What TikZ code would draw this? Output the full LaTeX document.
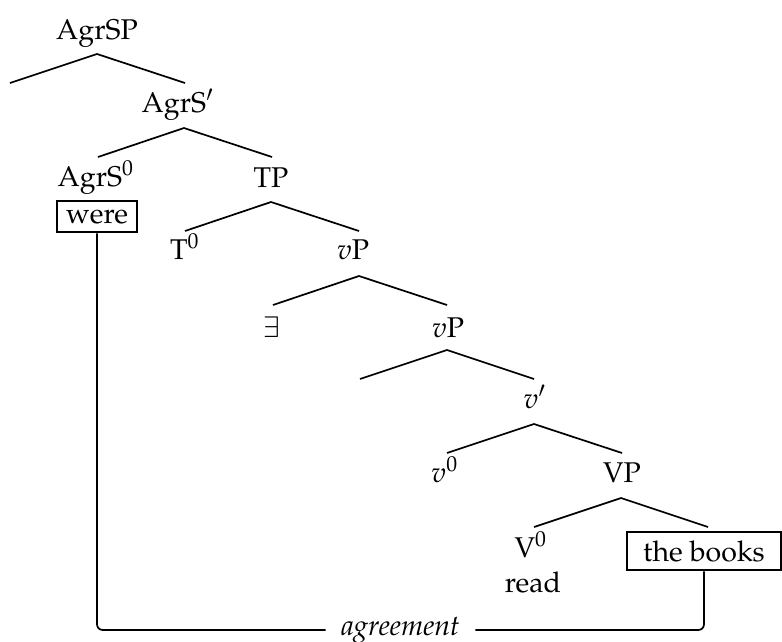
\documentclass[tikz,border=0pt]{standalone}
\usepackage[T1]{fontenc}
\usepackage{mathpazo}
\begin{document}
\begin{tikzpicture}[x=0.3504pt,y=-0.3504pt,
  lbl/.style={anchor=base,inner sep=0pt},
  branch/.style={line width=0.6pt},
  boxed/.style={draw,line width=0.8pt,inner xsep=3pt,inner ysep=3pt},
  link/.style={line width=0.6pt,rounded corners=2pt}]
\useasboundingbox (0,0) rectangle (782,641);
% labels
\node[lbl] (agrsp) at (97,39) {AgrSP};
\node[lbl] (agrsbar) at (178,112) {AgrS$'$};
\node[lbl] (agrs0) at (96,186) {AgrS$^0$};
\node[boxed,minimum width=28pt] (were) at (97,216.5) {were};
\node[lbl] (tp) at (271,187) {TP};
\node[lbl] (t0) at (185,259) {T$^0$};
\node[lbl] (vp1) at (353,259) {$v$P};
\node[lbl] (ex) at (272,337) {$\exists$};
\node[lbl] (vp2) at (448,337) {$v$P};
\node[lbl] (vbar) at (535,408) {$v'$};
\node[lbl] (v0) at (445,482) {$v^0$};
\node[lbl] (bigvp) at (622,482) {VP};
\node[lbl] (bigv0) at (531,557) {V$^0$};
\node[lbl] (read) at (533,592) {read};
\node[boxed,minimum width=54pt] (books) at (704,551) {the books};
% branch coordinates
\coordinate (a1) at (97,54);  \coordinate (a1l) at (10,83);  \coordinate (a1r) at (185,83);
\coordinate (a2) at (184,128); \coordinate (a2l) at (98,157); \coordinate (a2r) at (272,157);
\coordinate (a3) at (271,202); \coordinate (a3l) at (185,231); \coordinate (a3r) at (359,231);
\coordinate (a4) at (359,276); \coordinate (a4l) at (273,305); \coordinate (a4r) at (447,305);
\coordinate (a5) at (447,350); \coordinate (a5l) at (360,379); \coordinate (a5r) at (534,379);
\coordinate (a6) at (534,424); \coordinate (a6l) at (447,453); \coordinate (a6r) at (622,453);
\coordinate (a7) at (621,498); \coordinate (a7l) at (534,527); \coordinate (a7r) at (708,527);
\foreach \n in {a1,a2,a3,a4,a5,a6,a7}{
  \draw[branch] (\n l) -- (\n) -- (\n r);
}
% agreement link
\coordinate (bot) at (0,630);
\draw[link] (were.south) -- (were.south |- bot)
  -- node[fill=white,inner xsep=5.5pt,inner ysep=1pt,font=\itshape] (agr) {agreement}
  (books.south |- bot) -- (books.south);
\end{tikzpicture}
\end{document}
